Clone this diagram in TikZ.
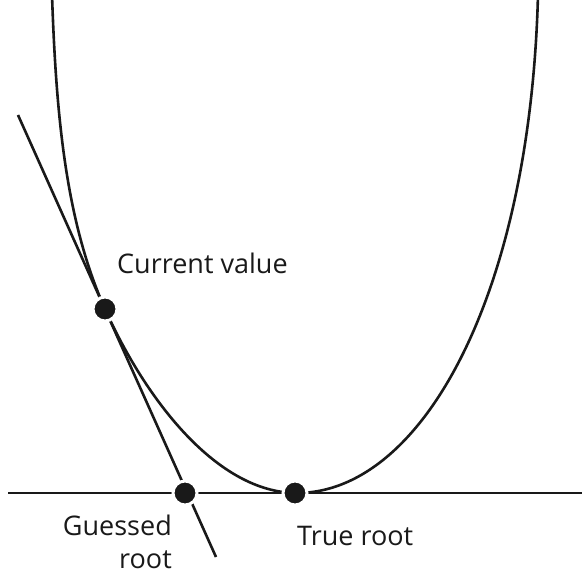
\documentclass[tikz,border=0pt]{standalone}
\usepackage{fontspec}
\setmainfont{Open Sans}
\begin{document}
\begin{tikzpicture}[x=1pt,y=-1pt,
  curveline/.style={line width=2.6pt,black!90},
  dotnode/.style={circle,fill=black!90,draw=white,line width=3pt,minimum size=24pt,inner sep=0pt},
  lbl/.style={font=\fontsize{27}{33}\selectfont,text=black!90,inner sep=0pt}]
\useasboundingbox (0,0) rectangle (582,575);
\clip (0,0) rectangle (582,575);
% axis
\coordinate (axL) at (8,493);
\coordinate (axR) at (582,493);
\draw[curveline] (axL) -- (axR);
% curve
\coordinate (top1) at (52,-5);
\coordinate (cvp) at (105,309);
\coordinate (vtx) at (297,493);
\coordinate (top2) at (538,-5);
\draw[curveline] (top1) .. controls (56,110) and (64.7,219) .. (cvp)
  .. controls (145.3,399) and (217,493) .. (vtx)
  .. controls (420,493) and (530,300) .. (top2);
% tangent
\coordinate (tA) at (18,115);
\coordinate (tB) at (216,557);
\draw[curveline] (tA) -- (tB);
% dots
\node[dotnode] (cv) at (cvp) {};
\node[dotnode] (gr) at (185,493) {};
\node[dotnode] (tr) at (295,493) {};
% labels
\node[lbl,anchor=base west] (lcv) at (117,274) {Current value};
\node[lbl,anchor=north east,align=right] (lgr) at (172,515) {Guessed\\root};
\node[lbl,anchor=base west] (ltr) at (297,545) {True root};
\end{tikzpicture}
\end{document}
